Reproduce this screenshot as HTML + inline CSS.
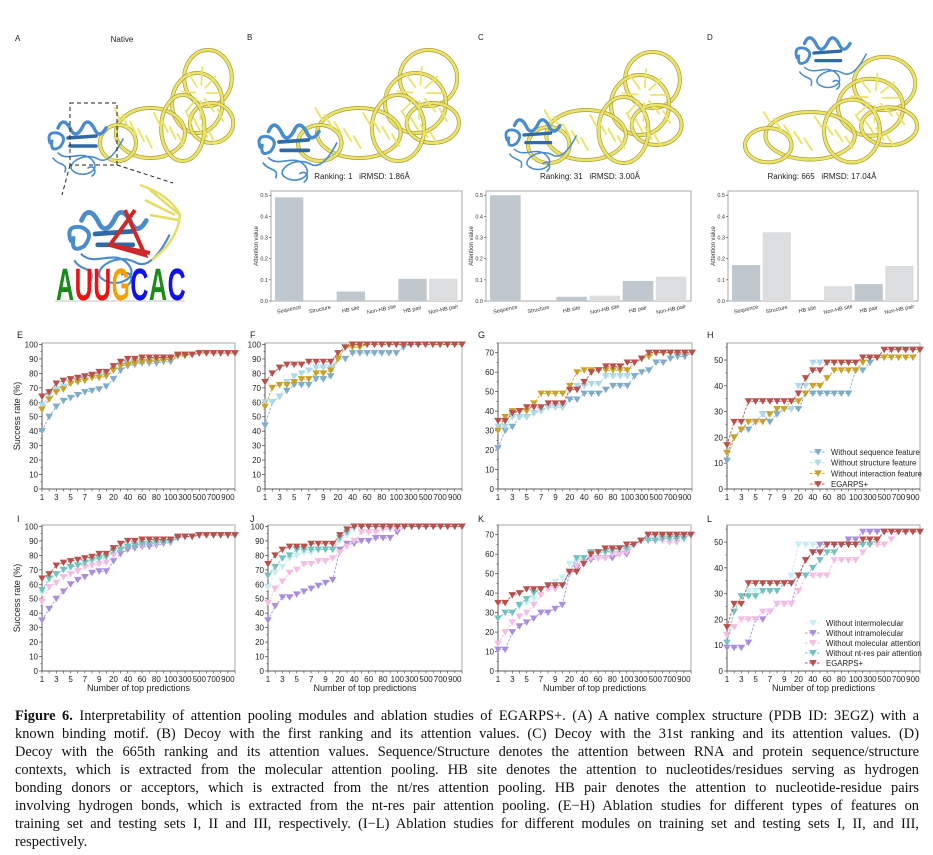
<!DOCTYPE html>
<html><head><meta charset="utf-8">
<style>
body{margin:0;background:#fff;}
#wrap{position:relative;width:933px;height:855px;overflow:hidden;background:#fff;}
svg{position:absolute;left:0;top:0;}
svg text{white-space:pre;}
#cap{position:absolute;left:15px;top:707px;width:904px;font-family:"Liberation Serif",serif;font-size:14.4px;line-height:18px;color:#111;}
#cap div{text-align:justify;text-align-last:justify;white-space:nowrap;}
#cap div.last{text-align-last:left;}
</style></head><body>
<div id="wrap">
<svg id="svg" width="933" height="855" viewBox="0 0 933 855"></svg>
<div id="cap">
<div style="white-space:normal"><b>Figure 6.</b> Interpretability of attention pooling modules and ablation studies of EGARPS+. (A) A native complex structure (PDB ID: 3EGZ) with a</div>
<div>known binding motif. (B) Decoy with the first ranking and its attention values. (C) Decoy with the 31st ranking and its attention values. (D)</div>
<div>Decoy with the 665th ranking and its attention values. Sequence/Structure denotes the attention between RNA and protein sequence/structure</div>
<div>contexts, which is extracted from the molecular attention pooling. HB site denotes the attention to nucleotides/residues serving as hydrogen</div>
<div>bonding donors or acceptors, which is extracted from the nt/res attention pooling. HB pair denotes the attention to nucleotide-residue pairs</div>
<div>involving hydrogen bonds, which is extracted from the nt-res pair attention pooling. (E−H) Ablation studies for different types of features on</div>
<div>training set and testing sets I, II and III, respectively. (I−L) Ablation studies for different modules on training set and testing sets I, II, and III,</div>
<div class="last">respectively.</div>
</div>
</div>
<script>
// ---------- data ----------
const xCategories = [1,2,3,4,5,6,7,8,9,10,20,30,40,50,60,70,80,90,100,200,300,400,500,600,700,800,900,1000];
const xTickLabels = ["1","3","5","7","9","20","40","60","80","100","300","500","700","900"];
const barCategories = ["Sequence","Structure","HB site","Non-HB site","HB pair","Non-HB pair"];
const barTicks = [0,0.1,0.2,0.3,0.4,0.5];
const barsB = [0.49,0.005,0.045,0,0.105,0.105];
const barsC = [0.50,0,0.02,0.025,0.095,0.115];
const barsD = [0.17,0.325,0,0.07,0.08,0.165];

const eSeq =  [40,50,57,61,63,65,67,68,69,71,76,82,85,86,87,87,87,88,88,92,93,93,94,94,94,94,94,94];
const eStr =  [58,65,69,71,73,75,77,78,79,80,83,86,87,88,88,89,89,90,91,92,93,93,94,94,94,94,94,94];
const eInt =  [55,62,67,69,73,74,75,77,77,78,82,85,86,87,88,88,89,89,90,92,92,93,94,94,94,94,94,94];
const eEg =   [64,67,73,75,76,77,78,79,81,81,85,88,90,90,91,91,91,91,91,93,93,93,94,94,94,94,94,94];

const fSeq =  [44,60,64,68,72,72,72,76,76,78,90,90,94,94,94,94,94,94,94,98,100,100,100,100,100,100,100,100];
const fStr =  [60,60,64,74,78,80,82,84,84,84,90,98,100,100,100,100,100,100,100,100,100,100,100,100,100,100,100,100];
const fInt =  [57,70,72,72,74,76,76,80,80,82,90,98,98,98,100,100,100,100,100,100,100,100,100,100,100,100,100,100];
const fEg =   [74,80,84,86,86,86,88,88,88,88,94,98,100,100,100,100,100,100,100,100,100,100,100,100,100,100,100,100];

const gSeq =  [21,30,32,37,37,39,40,42,42,42,46,46,49,49,49,51,53,53,53,58,60,61,65,65,67,68,68,70];
const gStr =  [32,32,37,37,37,39,40,42,42,42,51,53,53,54,54,58,58,58,58,65,67,70,70,70,70,70,70,70];
const gInt =  [30,37,40,40,40,44,49,49,49,49,53,60,61,61,61,61,61,61,61,65,67,68,70,70,70,70,70,70];
const gEg =   [35,35,39,40,42,42,42,44,44,44,51,51,55,60,61,63,63,63,65,65,67,70,70,70,70,70,70,70];

const hSeq =  [11,20,23,23,26,29,26,29,31,31,31,37,37,37,37,37,37,37,46,46,49,51,51,54,54,54,54,54];
const hStr =  [14,20,23,26,26,29,29,31,31,31,40,40,49,49,49,49,49,49,49,51,51,51,54,54,54,54,54,54];
const hInt =  [14,20,23,26,26,26,29,31,31,34,34,37,40,40,43,46,46,46,46,49,51,51,51,51,51,51,51,54];
const hEg =   [17,26,26,34,34,34,34,34,34,34,37,43,46,46,49,49,49,49,49,51,51,51,54,54,54,54,54,54];

const iInter = [54,63,67,70,71,73,75,76,77,78,83,85,86,87,88,88,89,89,90,92,93,93,94,94,94,94,94,94];
const iIntra = [35,43,50,55,60,63,65,68,69,69,76,81,84,85,86,86,87,88,89,92,93,93,94,94,94,94,94,94];
const iMol =   [48,58,61,65,67,69,72,73,74,75,80,84,86,87,87,88,88,89,90,92,93,93,94,94,94,94,94,94];
const iPair =  [56,64,67,70,72,73,75,77,78,79,83,84,86,87,88,88,89,89,90,92,93,93,94,94,94,94,94,94];
const iEg =    [64,67,73,75,76,77,78,79,81,81,85,88,90,90,91,91,91,91,91,93,93,93,94,94,94,94,94,94];

const jInter = [58,68,72,78,80,82,82,84,84,84,90,94,98,100,100,100,100,100,100,100,100,100,100,100,100,100,100,100];
const jIntra = [35,45,51,51,53,55,57,59,61,63,84,88,88,90,90,92,92,92,96,100,100,100,100,100,100,100,100,100];
const jMol =   [47,57,62,68,70,74,74,76,76,78,82,86,90,96,96,96,98,98,98,100,100,100,100,100,100,100,100,100];
const jPair =  [66,72,78,80,84,84,84,84,84,84,92,96,100,100,100,100,100,100,100,100,100,100,100,100,100,100,100,100];
const jEg =    [74,80,84,86,86,86,88,88,88,88,94,98,100,100,100,100,100,100,100,100,100,100,100,100,100,100,100,100];

const kInter = [27,30,30,33,35,37,42,44,46,48,55,56,56,60,61,61,61,61,62,65,67,68,68,68,68,68,68,70];
const kIntra = [11,11,20,23,25,27,30,30,32,34,50,53,56,57,58,58,58,60,60,65,67,70,70,70,70,70,70,70];
const kMol =   [14,20,25,28,30,34,39,42,42,44,50,54,56,58,58,58,60,60,61,65,67,67,67,67,66,66,68,70];
const kPair =  [27,30,30,34,37,40,42,44,44,44,51,58,58,61,61,61,62,63,63,65,67,67,67,68,68,68,68,70];
const kEg =    [35,35,39,40,42,42,42,44,44,44,51,51,55,60,61,63,63,63,65,65,67,70,70,70,70,70,70,70];

const lInter = [14,23,29,31,31,31,31,31,34,37,49,49,49,49,49,49,49,49,49,49,54,54,54,54,54,54,54,54];
const lIntra = [9,9,9,11,20,20,23,26,26,26,37,43,46,49,49,49,49,51,51,54,54,54,54,54,54,54,54,54];
const lMol =   [14,17,20,20,20,23,23,26,26,26,31,37,37,37,37,43,43,43,43,46,49,49,49,51,54,54,54,54];
const lPair =  [11,23,29,29,29,31,31,31,34,34,37,37,40,43,46,46,49,49,49,49,49,51,54,54,54,54,54,54];
const lEg =    [17,26,26,34,34,34,34,34,34,34,37,43,46,46,49,49,49,49,49,51,51,51,54,54,54,54,54,54];

// ---------- helpers ----------
const NS="http://www.w3.org/2000/svg";
const svg=document.getElementById('svg');
function mk(tag,attrs,parent,txt){const e=document.createElementNS(NS,tag);for(const k in attrs)e.setAttribute(k,attrs[k]);if(txt!==undefined)e.textContent=txt;(parent||svg).appendChild(e);return e;}
const FONT='"Liberation Sans",Arial,sans-serif';

function label(x,y,t,size,name,anchor){
  const e=mk('text',{x:x,y:y,'font-family':FONT,'font-size':size,fill:'#222','text-anchor':anchor||'start'},svg,t);
  
  
  return e;
}

// ---------- line charts ----------
const C={seq:'#7facc9',str:'#aed9ea',int:'#c9a227',eg:'#b9504c',inter:'#c9ecf5',intra:'#a98ee0',mol:'#f3bde4',pair:'#74c2c0'};
function lineChart(name,box,ymax,ystep,series,opts){
  const g=mk('g',{});
  
  
  const n=xCategories.length;
  const xs=i=>box.x0+i*(box.x1-box.x0)/(n-1);
  const ys=v=>box.y1-v/ymax*(box.y1-box.y0);
  const fr=mk('rect',{x:box.x0,y:box.y0,width:box.x1-box.x0,height:box.y1-box.y0,fill:'none',stroke:'#aaa','stroke-width':1},g);
  
  
  mk('line',{x1:box.x0,y1:box.y0,x2:box.x0,y2:box.y1,stroke:'#444','stroke-width':0.8},g);
  mk('line',{x1:box.x0,y1:box.y1,x2:box.x1,y2:box.y1,stroke:'#444','stroke-width':0.8},g);
  for(let v=0;v<=ymax;v+=ystep){
    const y=ys(v);
    mk('line',{x1:box.x0-3,y1:y,x2:box.x0,y2:y,stroke:'#444','stroke-width':0.7},g);
    if(v+ystep/2<=ymax) mk('line',{x1:box.x0-1.5,y1:ys(v+ystep/2),x2:box.x0,y2:ys(v+ystep/2),stroke:'#444','stroke-width':0.6},g);
    const t=mk('text',{x:box.x0-4,y:y+3,'font-family':FONT,'font-size':8,fill:'#222','text-anchor':'end'},g,String(v));
    
    
  }
  for(let i=0;i<n;i++){
    mk('line',{x1:xs(i),y1:box.y1,x2:xs(i),y2:box.y1+2.5,stroke:'#444','stroke-width':0.6},g);
  }
  xTickLabels.forEach((lb,k)=>{
    const t=mk('text',{x:xs(k*2),y:box.y1+11,'font-family':FONT,'font-size':8,fill:'#222','text-anchor':'middle'},g,lb);
    
    
  });
  series.forEach(s=>{
    const sg=mk('g',{},g);
    
    
    const pts=s.data.map((v,i)=>xs(i).toFixed(1)+','+ys(v).toFixed(1)).join(' ');
    mk('polyline',{points:pts,fill:'none',stroke:s.color,'stroke-width':0.9,'stroke-dasharray':'2.5,1.5'},sg);
    s.data.forEach((v,i)=>{
      const x=xs(i),y=ys(v);
      const m=mk('polygon',{points:`${x-3.8},${y-3} ${x+3.8},${y-3} ${x},${y+3.5}`,fill:s.color},sg);
      
      
    });
  });
  if(opts&&opts.ytitle){
    const cy=(box.y0+box.y1)/2;
    const t=mk('text',{x:0,y:0,transform:`translate(${box.x0-22},${cy}) rotate(-90)`,'font-family':FONT,'font-size':9,fill:'#222','text-anchor':'middle'},g,'Success rate (%)');
    
    
  }
  if(opts&&opts.xtitle){
    const t=mk('text',{x:(box.x0+box.x1)/2,y:box.y1+20,'font-family':FONT,'font-size':9,fill:'#222','text-anchor':'middle'},g,'Number of top predictions');
    
    
  }
  if(opts&&opts.legend){
    const lg=mk('g',{},g);
    
    
    opts.legend.items.forEach((it,k)=>{
      const y=opts.legend.y+k*opts.legend.dy;
      const mx=opts.legend.x;
      mk('line',{x1:mx-8,y1:y,x2:mx+8,y2:y,stroke:it.color,'stroke-width':0.9,'stroke-dasharray':'2.5,1.5'},lg);
      mk('polygon',{points:`${mx-3.8},${y-3} ${mx+3.8},${y-3} ${mx},${y+3.5}`,fill:it.color},lg);
      const t=mk('text',{x:mx+13,y:y+3,'font-family':FONT,'font-size':7.8,fill:'#222'},lg,it.label);
      
      
    });
  }
}

const featSeries=(a,b,c,d)=>[{key:'without-sequence',color:C.seq,data:a},{key:'without-structure',color:C.str,data:b},{key:'without-interaction',color:C.int,data:c},{key:'egarps',color:C.eg,data:d}];
const modSeries=(a,b,c,d,e)=>[{key:'without-intermolecular',color:C.inter,data:a},{key:'without-intramolecular',color:C.intra,data:b},{key:'without-molecular-attention',color:C.mol,data:c},{key:'without-pair-attention',color:C.pair,data:d},{key:'egarps',color:C.eg,data:e}];

const R1={y0:343,y1:489}, R2={y0:525,y1:671};
lineChart('chart-e',{x0:42,x1:235,...R1},101,10,featSeries(eSeq,eStr,eInt,eEg),{ytitle:true});
lineChart('chart-f',{x0:265,x1:462,...R1},101,10,featSeries(fSeq,fStr,fInt,fEg),{});
lineChart('chart-g',{x0:498,x1:692,...R1},75,10,featSeries(gSeq,gStr,gInt,gEg),{});
lineChart('chart-h',{x0:727,x1:920,...R1},56.6,10,featSeries(hSeq,hStr,hInt,hEg),{legend:{x:818,y:452,dy:10.7,items:[
  {color:C.seq,label:'Without sequence feature'},{color:C.str,label:'Without structure feature'},{color:C.int,label:'Without interaction feature'},{color:C.eg,label:'EGARPS+'}]}});
lineChart('chart-i',{x0:42,x1:235,...R2},101,10,modSeries(iInter,iIntra,iMol,iPair,iEg),{ytitle:true,xtitle:true});
lineChart('chart-j',{x0:268,x1:462,...R2},101,10,modSeries(jInter,jIntra,jMol,jPair,jEg),{xtitle:true});
lineChart('chart-k',{x0:498,x1:691,...R2},75,10,modSeries(kInter,kIntra,kMol,kPair,kEg),{xtitle:true});
lineChart('chart-l',{x0:727,x1:920,...R2},56.6,10,modSeries(lInter,lIntra,lMol,lPair,lEg),{xtitle:true,legend:{x:813,y:623,dy:10,items:[
  {color:C.inter,label:'Without intermolecular'},{color:C.intra,label:'Without intramolecular'},{color:C.mol,label:'Without molecular attention'},{color:C.pair,label:'Without nt-res pair attention'},{color:C.eg,label:'EGARPS+'}]}});

label(17,338,'E',9,'panel-label-e');label(250,338,'F',9,'panel-label-f');label(478,338,'G',9,'panel-label-g');label(707,338,'H',9,'panel-label-h');
label(17,522,'I',9,'panel-label-i');label(250,522,'J',9,'panel-label-j');label(478,522,'K',9,'panel-label-k');label(707,522,'L',9,'panel-label-l');

// ---------- bar charts ----------
function barChart(name,box,vals){
  const g=mk('g',{});
  
  
  const ymax=0.52;
  const ys=v=>box.y1-v/ymax*(box.y1-box.y0);
  const n=barCategories.length, bw=(box.x1-box.x0-6)/n;
  mk('rect',{x:box.x0,y:box.y0,width:box.x1-box.x0,height:box.y1-box.y0,fill:'none',stroke:'#aaa','stroke-width':1},g);
  barTicks.forEach(v=>{
    mk('line',{x1:box.x0-2,y1:ys(v),x2:box.x0,y2:ys(v),stroke:'#444','stroke-width':0.6},g);
    const t=mk('text',{x:box.x0-3,y:ys(v)+2,'font-family':FONT,'font-size':5.5,fill:'#333','text-anchor':'end'},g,v.toFixed(1));
    
    
  });
  vals.forEach((v,i)=>{
    const x=box.x0+3+i*bw;
    const b=mk('rect',{x:x+1,y:ys(v),width:bw-2.5,height:box.y1-ys(v),fill:(i%2===0)?'#c0c8cf':'#dcdddf'},g);
    
    
    const t=mk('text',{x:0,y:0,transform:`translate(${x+bw/2},${box.y1+10}) rotate(-12)`,'font-family':FONT,'font-size':5.5,fill:'#333','text-anchor':'middle'},g,barCategories[i]);
    
    
  });
  const yt=mk('text',{x:0,y:0,transform:`translate(${box.x0-13},${(box.y0+box.y1)/2}) rotate(-90)`,'font-family':FONT,'font-size':6,fill:'#333','text-anchor':'middle'},g,'Attention value');
  
  
}
barChart('bar-chart-b',{x0:271,x1:462,y0:191,y1:301},barsB);
barChart('bar-chart-c',{x0:486,x1:691,y0:191,y1:301},barsC);
barChart('bar-chart-d',{x0:728,x1:918,y0:191,y1:301},barsD);

// ---------- molecule illustrations ----------
function rna(name,tx,ty,sx,sy){
  const g=mk('g',{transform:`translate(${tx},${ty}) scale(${sx},${sy})`,fill:'none','stroke-linecap':'round'});
  
  
  const Y='#ece46a', D='#a89e3a';
  [[150,30,33,28],[135,55,35,30],[155,75,30,20],[70,85,48,25],[115,80,30,33],[25,95,25,18]].forEach(e=>{
    mk('ellipse',{cx:e[0],cy:e[1],rx:e[2],ry:e[3],stroke:D,'stroke-width':4,'vector-effect':'non-scaling-stroke'},g);
    mk('ellipse',{cx:e[0],cy:e[1],rx:e[2],ry:e[3],stroke:Y,'stroke-width':2.6,'vector-effect':'non-scaling-stroke'},g);
  });
  for(let k=0;k<14;k++){
    const x=20+k*11, y=60+((k*7)%30);
    mk('line',{x1:x,y1:y,x2:x+8,y2:y+12,stroke:Y,'stroke-width':2,'vector-effect':'non-scaling-stroke'},g);
  }
  for(let k=0;k<8;k++){
    const a=k*0.8;
    mk('line',{x1:140+Math.cos(a)*8,y1:45+Math.sin(a)*8,x2:140+Math.cos(a)*26,y2:45+Math.sin(a)*26,stroke:Y,'stroke-width':1.8,'vector-effect':'non-scaling-stroke'},g);
  }
}
function protein(name,tx,ty,s){
  const g=mk('g',{transform:`translate(${tx},${ty}) scale(${s})`,fill:'none','stroke-linecap':'round'});
  
  
  const B='#4a8ccc', DB='#2f6aa6';
  mk('path',{d:'M10,30 q5,-12 12,0 q5,12 12,0 q5,-12 12,0 q5,12 12,0',stroke:B,'stroke-width':3.5},g);
  mk('path',{d:'M2,45 q-4,-12 8,-10 q10,4 2,14 q-10,6 -8,-6',stroke:B,'stroke-width':3},g);
  mk('path',{d:'M10,55 c10,10 25,-5 35,8 c8,10 -10,18 -20,10 c-8,-6 10,-20 25,-12 c10,6 20,-10 25,-20',stroke:B,'stroke-width':1.6},g);
  mk('path',{d:'M20,40 l28,-2 M22,48 l26,0',stroke:DB,'stroke-width':3.5},g);
  mk('path',{d:'M5,60 c5,8 15,4 12,14 M40,70 c6,-4 10,4 4,8',stroke:B,'stroke-width':1.6},g);
}
// A
rna('rna-native',100,48,0.72,1.0);
protein('protein-native',48,98,1);
mk('rect',{x:70,y:103,width:47,height:62,fill:'none',stroke:'#222','stroke-width':1,'stroke-dasharray':'4,3'});
mk('path',{d:'M70,165 L62,195 M117,165 L173,183',fill:'none',stroke:'#222','stroke-width':1,'stroke-dasharray':'4,3'});
// inset
protein('protein-inset',68,180,1.35);
mk('path',{d:'M140,185 q30,10 40,30 q-2,25 -28,45 M150,190 l30,25 M145,200 l30,15 M150,215 l28,5',fill:'none',stroke:'#e4dc66','stroke-width':2.5});
mk('path',{d:'M135,210 l-25,35 l35,10 l-20,-45 M110,245 l40,8',fill:'none',stroke:'#cc2a2a','stroke-width':4});
// logo
const logoLetters=['A','U','U','G','C','A','C'];
const logoColors=['#1a8a1a','#ee1111','#ee1111','#f5a000','#1111ee','#1a8a1a','#1111ee'];
logoLetters.forEach((L,i)=>{
  const t=mk('text',{x:56+i*18.6,y:300,'font-family':FONT,'font-weight':'bold','font-size':45,fill:logoColors[i],textLength:18,lengthAdjust:'spacingAndGlyphs'},svg,L);
  
  
});
mk('line',{x1:55,y1:301,x2:185,y2:301,stroke:'#888','stroke-width':0.6});
label(15,41,'A',8,'panel-label-a');
label(122,42,'Native',8,'native-title','middle');
// B
rna('rna-b',298,48,0.87,1.0);
protein('protein-b',258,100,1.05);
label(247,40,'B',8,'panel-label-b');
label(362,179,'Ranking: 1   iRMSD: 1.86Å',8,'ranking-b','middle');
// C
rna('rna-c',528,50,0.83,1.0);
protein('protein-c',505,97,0.95);
label(478,40,'C',8,'panel-label-c');
label(590,179,'Ranking: 31   iRMSD: 3.00Å',8,'ranking-c','middle');
// D
rna('rna-d',745,55,0.93,0.95);
protein('protein-d',795,15,0.95);
label(707,40,'D',8,'panel-label-d');
label(822,179,'Ranking: 665   iRMSD: 17.04Å',8,'ranking-d','middle');
</script>
</body></html>
